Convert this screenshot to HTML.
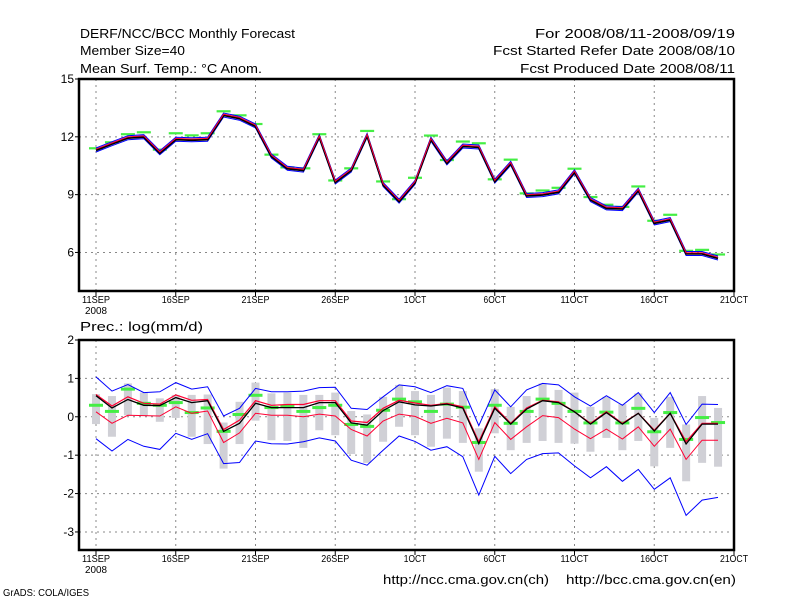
<!DOCTYPE html>
<html><head><meta charset="utf-8"><style>
html,body{margin:0;padding:0;background:#fff;width:800px;height:600px;overflow:hidden}
svg{display:block;font-family:"Liberation Sans",sans-serif}
</style></head><body>
<svg id="chart" width="800" height="600" viewBox="0 0 800 600" xmlns="http://www.w3.org/2000/svg">
<rect x="0" y="0" width="800" height="600" fill="#fff"/>
<g font-size="13" fill="#000">
<text x="80" y="38" textLength="215" lengthAdjust="spacingAndGlyphs">DERF/NCC/BCC Monthly Forecast</text>
<text x="80" y="55" textLength="105" lengthAdjust="spacingAndGlyphs">Member Size=40</text>
<text x="80" y="73" textLength="182" lengthAdjust="spacingAndGlyphs">Mean Surf. Temp.: °C Anom.</text>
<text x="735" y="38" text-anchor="end" textLength="200" lengthAdjust="spacingAndGlyphs">For 2008/08/11-2008/09/19</text>
<text x="735" y="55" text-anchor="end" textLength="242" lengthAdjust="spacingAndGlyphs">Fcst Started Refer Date 2008/08/10</text>
<text x="735" y="73" text-anchor="end" textLength="215" lengthAdjust="spacingAndGlyphs">Fcst Produced Date 2008/08/11</text>
<text x="80" y="331" textLength="123" lengthAdjust="spacingAndGlyphs">Prec.: log(mm/d)</text>
<text x="383" y="584" textLength="166" lengthAdjust="spacingAndGlyphs">http://ncc.cma.gov.cn(ch)</text>
<text x="566" y="584" textLength="170" lengthAdjust="spacingAndGlyphs">http://bcc.cma.gov.cn(en)</text>
<text x="3" y="596" font-size="10" textLength="86" lengthAdjust="spacingAndGlyphs">GrADS: COLA/IGES</text>
</g>
<g id="top"></g>
<g id="bot"></g>
</svg>
<script>
// ---- shared x axis ----
const days = Array.from({length:40},(_,i)=>i);
const xTickDays = [0,5,10,15,20,25,30,35,40];
const xTickLabels = ["11SEP","16SEP","21SEP","26SEP","1OCT","6OCT","11OCT","16OCT","21OCT"];

// ---- temperature panel data ----
const tempMean = [11.34,11.67,11.98,12.03,11.2,11.9,11.87,11.9,13.16,12.99,12.59,11.03,10.39,10.3,12.03,9.68,10.3,12.1,9.55,8.69,9.66,11.9,10.68,11.55,11.5,9.73,10.65,8.98,9.03,9.17,10.21,8.77,8.34,8.3,9.26,7.56,7.73,5.97,5.97,5.74];
const tempObs = [11.41,11.72,12.14,12.24,11.34,12.19,12.08,12.19,13.33,13.12,12.67,11.08,10.42,10.37,12.14,9.74,10.37,12.31,9.69,8.77,9.88,12.07,10.8,11.76,11.67,9.8,10.82,9.07,9.22,9.36,10.35,8.88,8.48,8.37,9.43,7.65,7.96,6.09,6.14,5.9];
const tempTicks = [6,9,12,15];

// ---- precipitation panel data ----
const precBlueUp = [1.04,0.67,0.84,0.63,0.65,0.89,0.72,0.78,0.02,0.22,0.74,0.65,0.65,0.67,0.76,0.77,0.22,0.19,0.52,0.83,0.78,0.63,0.81,0.74,-0.23,0.70,0.26,0.70,0.87,0.83,0.52,0.28,0.55,0.30,0.63,0.11,0.63,-0.20,0.33,0.32];
const precRedUp = [0.58,0.28,0.52,0.35,0.33,0.57,0.43,0.45,-0.33,-0.09,0.42,0.30,0.32,0.32,0.42,0.42,-0.11,-0.15,0.22,0.43,0.36,0.30,0.35,0.26,-0.65,0.26,-0.17,0.23,0.43,0.39,0.13,-0.17,0.13,-0.17,0.09,-0.35,0.09,-0.65,-0.17,-0.17];
const precMean = [0.55,0.23,0.45,0.30,0.29,0.50,0.37,0.42,-0.38,-0.17,0.35,0.24,0.24,0.24,0.37,0.37,-0.16,-0.22,0.16,0.39,0.31,0.28,0.33,0.23,-0.70,0.22,-0.19,0.20,0.42,0.37,0.13,-0.19,0.11,-0.19,0.09,-0.37,0.09,-0.71,-0.19,-0.19];
const precRedLow = [0.13,-0.17,0.04,0.03,0.02,0.26,0.09,0.15,-0.67,-0.42,0.09,0.04,0.04,0.00,0.07,0.02,-0.33,-0.50,-0.11,0.07,0.01,-0.17,-0.04,-0.16,-1.11,-0.15,-0.59,-0.26,0.03,-0.02,-0.32,-0.57,-0.32,-0.58,-0.26,-0.77,-0.32,-1.11,-0.61,-0.61];
const precBlueLow = [-0.57,-0.89,-0.59,-0.77,-0.85,-0.43,-0.59,-0.44,-1.22,-1.19,-0.63,-0.70,-0.71,-0.65,-0.55,-0.63,-1.13,-1.26,-0.87,-0.50,-0.64,-0.87,-0.78,-1.04,-2.04,-1.03,-1.48,-1.11,-0.96,-0.94,-1.28,-1.59,-1.30,-1.68,-1.37,-1.89,-1.59,-2.57,-2.17,-2.10];
const precObs = [0.30,0.14,0.72,0.35,0.30,0.37,0.11,0.23,-0.38,0.06,0.56,0.24,0.28,0.14,0.24,0.30,-0.20,-0.25,0.17,0.46,0.39,0.14,0.33,0.25,-0.67,0.30,-0.17,0.14,0.46,0.35,0.14,-0.16,0.12,-0.16,0.22,-0.39,0.11,-0.59,-0.02,-0.15];
const precBoxTop = [0.59,0.54,0.87,0.63,0.48,0.57,0.57,0.58,-0.15,0.39,0.89,0.61,0.63,0.57,0.57,0.63,0.15,0.06,0.52,0.83,0.67,0.57,0.76,0.67,-0.30,0.72,0.26,0.54,0.87,0.70,0.63,0.26,0.52,0.33,0.61,-0.03,0.52,-0.20,0.54,0.23];
const precBoxBot = [-0.19,-0.52,0.04,0.03,-0.13,-0.03,-0.52,-0.71,-1.35,-0.71,-0.10,-0.61,-0.63,-0.81,-0.35,-0.48,-0.97,-1.20,-0.65,-0.26,-0.48,-0.78,-0.57,-0.68,-1.43,-0.43,-0.87,-0.68,-0.63,-0.68,-0.70,-0.91,-0.55,-0.87,-0.63,-1.29,-0.81,-1.68,-1.20,-1.30];
const precTicks = [-3,-2,-1,0,1,2];

const NS="http://www.w3.org/2000/svg";
function mk(parent,tag,attrs){const e=document.createElementNS(NS,tag);for(const k in attrs)e.setAttribute(k,attrs[k]);parent.appendChild(e);return e;}
const X = d => 96 + d*15.95;
const LEFT=79, RIGHT=734;

function panel(g, top, bottom, vmax, vmin, ticks, gridVals, pfx){
  const Y = v => top + (vmax-v)/(vmax-vmin)*(bottom-top);
  // grid
  xTickDays.slice(0,8).forEach(d=>{
    const l=mk(g,'line',{x1:X(d),x2:X(d),y1:top,y2:bottom,stroke:'#888','stroke-width':1,'stroke-dasharray':'2,4'});
    
    
  });
  gridVals.forEach(v=>{
    const l=mk(g,'line',{x1:LEFT,x2:RIGHT,y1:Y(v),y2:Y(v),stroke:'#888','stroke-width':1,'stroke-dasharray':'2,4'});
    
    
  });
  // y ticks
  ticks.forEach(v=>{
    const y=Y(v);
    mk(g,'line',{x1:LEFT-4,x2:LEFT,y1:y,y2:y,stroke:'#000','stroke-width':1});
    const t=mk(g,'text',{x:LEFT-5,y:y+4,'text-anchor':'end','font-size':12});
    t.textContent=String(v);
    
    
  });
  // x ticks
  xTickDays.forEach((d,i)=>{
    const x=X(d);
    mk(g,'line',{x1:x,x2:x,y1:bottom,y2:bottom+5,stroke:'#000','stroke-width':1});
    const t=mk(g,'text',{x:x,y:bottom+12,'text-anchor':'middle','font-size':10,textLength:xTickLabels[i].length*5.6,lengthAdjust:'spacingAndGlyphs'});
    t.textContent=xTickLabels[i];
    
    
  });
  const yr=mk(g,'text',{x:X(0),y:bottom+23,'text-anchor':'middle','font-size':10,textLength:22,lengthAdjust:'spacingAndGlyphs'});
  yr.textContent='2008';
  
  
  return Y;
}
function frame(g,top,bottom,pfx){
  const r=mk(g,'rect',{x:LEFT,y:top,width:RIGHT-LEFT,height:bottom-top,fill:'none',stroke:'#000','stroke-width':2.5});
  
  
}
function line(g,vals,Y,color,w,name,dy){
  const p=mk(g,'polyline',{points:vals.map((v,i)=>X(days[i]).toFixed(1)+','+(Y(v)+(dy||0)).toFixed(1)).join(' '),fill:'none',stroke:color,'stroke-width':w,'stroke-linejoin':'miter'});
  
  
  return p;
}

// ---- top panel ----
const gt=document.getElementById('top');
const TT=79, TB=291;
const Yt=panel(gt,TT,TB,15,4,tempTicks,[6,9,12],'temp');
tempObs.forEach((v,i)=>{
  const r=mk(gt,'rect',{x:X(i)-7,y:Y_t(v)-1,width:14,height:2.2,fill:'#44ee44'});
  
  
});
function Y_t(v){return Yt(v);}
line(gt,tempMean,Yt,'#0000ff',1,'temp-spread-lower-line',2.5);
line(gt,tempMean,Yt,'#0000ff',1,'temp-spread-upper-line',-1.5);
line(gt,tempMean,Yt,'#000',2,'temp-ensemble-mean-line',0.8);
line(gt,tempMean,Yt,'#ff0033',1,'temp-control-line',-0.3);
frame(gt,TT,TB,'temp');

// ---- bottom panel ----
const gb=document.getElementById('bot');
const BT=340, BB=550;
const Yb=panel(gb,BT,BB,2,-3.47,precTicks,[-3,-2,-1,0,1],'prec');
precBoxTop.forEach((v,i)=>{
  const y1=Yb(v), y2=Yb(precBoxBot[i]);
  const r=mk(gb,'rect',{x:X(i)-4,y:y1,width:8,height:y2-y1,fill:'#d0d0d6'});
  
  
});
precObs.forEach((v,i)=>{
  const r=mk(gb,'rect',{x:X(i)-7,y:Yb(v)-1.5,width:14,height:3,fill:'#44ee44'});
  
  
});
line(gb,precBlueUp,Yb,'#0000ff',1,'prec-blue-upper-line');
line(gb,precBlueLow,Yb,'#0000ff',1,'prec-blue-lower-line');
line(gb,precRedUp,Yb,'#ff0033',1.2,'prec-red-upper-line');
line(gb,precRedLow,Yb,'#ff0033',1,'prec-red-lower-line');
line(gb,precMean,Yb,'#000',1.3,'prec-ensemble-mean-line');
frame(gb,BT,BB,'prec');
</script>
</body></html>
